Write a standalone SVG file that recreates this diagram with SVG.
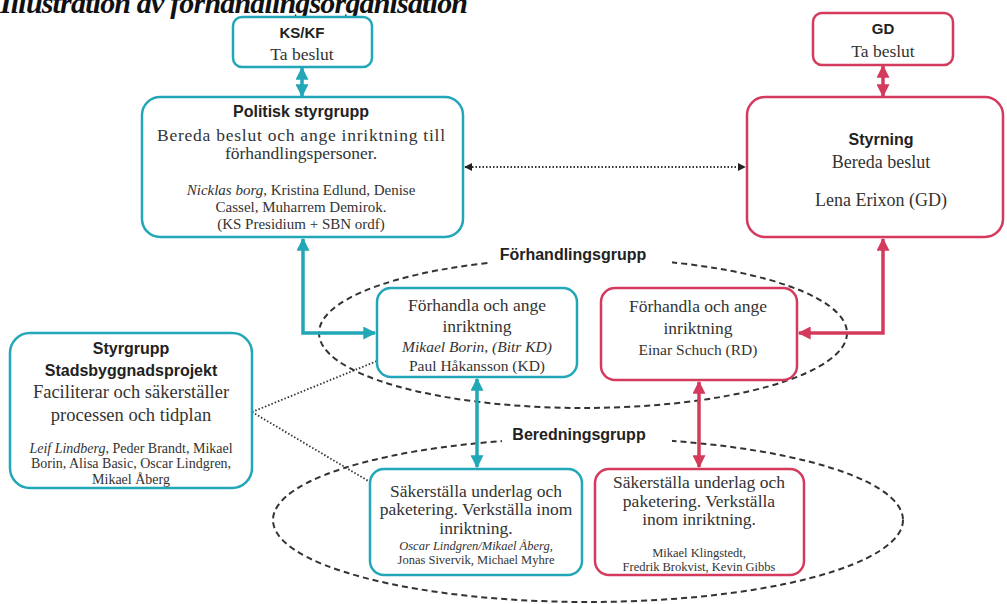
<svg xmlns="http://www.w3.org/2000/svg" width="1007" height="604" viewBox="0 0 1007 604">
<defs>
<style>
.teal{fill:#fff;stroke:#22A7B8;stroke-width:2.5}
.red{fill:#fff;stroke:#D43A5C;stroke-width:2.5}
.h{font-family:"Liberation Sans",Arial,sans-serif;font-weight:bold;fill:#222;text-anchor:middle}
.s{font-family:"Liberation Serif","Times New Roman",serif;fill:#333;text-anchor:middle}
.i{font-style:italic}
.ta{fill:none;stroke:#22A7B8;stroke-width:3.5}
.ra{fill:none;stroke:#D43A5C;stroke-width:3.5}
.dot{fill:none;stroke:#333;stroke-width:1.8;stroke-dasharray:1.5 2}
.dash{fill:none;stroke:#333;stroke-width:2;stroke-dasharray:6 4}
</style>
<marker id="mt" viewBox="0 0 10 10" refX="9" refY="5" markerUnits="userSpaceOnUse" markerWidth="14" markerHeight="13" orient="auto-start-reverse"><path d="M0,0 L10,5 L0,10 z" fill="#22A7B8"/></marker>
<marker id="mr" viewBox="0 0 10 10" refX="9" refY="5" markerUnits="userSpaceOnUse" markerWidth="14" markerHeight="13" orient="auto-start-reverse"><path d="M0,0 L10,5 L0,10 z" fill="#D43A5C"/></marker>
<marker id="mk" viewBox="0 0 10 10" refX="9" refY="5" markerUnits="userSpaceOnUse" markerWidth="8" markerHeight="8" orient="auto-start-reverse"><path d="M0,0 L10,5 L0,10 z" fill="#222"/></marker>
</defs>
<rect width="1007" height="604" fill="#fff"/>
<text x="0" y="13" font-family="Liberation Serif,serif" font-weight="bold" font-style="italic" font-size="30" fill="#111" textLength="468">Illustration av förhandlingsorganisation</text>

<g id="groups">
<ellipse cx="583" cy="333" rx="264" ry="75" class="dash"/>
<rect x="490" y="245" width="182" height="22" fill="#fff"/>
<text x="573" y="260" class="h" font-size="16">Förhandlingsgrupp</text>
<ellipse cx="588" cy="520" rx="315" ry="82" class="dash"/>
<rect x="502" y="425" width="170" height="22" fill="#fff"/>
<text x="579" y="440" class="h" font-size="16">Beredningsgrupp</text>
</g>

<g id="connectors">
<line x1="302" y1="68" x2="302" y2="96" class="ta" marker-start="url(#mt)" marker-end="url(#mt)"/>
<line x1="883" y1="66" x2="883" y2="96" class="ra" marker-start="url(#mr)" marker-end="url(#mr)"/>
<line x1="465" y1="167" x2="745" y2="167" class="dot" marker-start="url(#mk)" marker-end="url(#mk)"/>
<polyline points="303,239 303,333 375,333" class="ta" marker-start="url(#mt)" marker-end="url(#mt)"/>
<polyline points="883,239 883,333 799,333" class="ra" marker-start="url(#mr)" marker-end="url(#mr)"/>
<line x1="477" y1="379" x2="477" y2="467" class="ta" marker-start="url(#mt)" marker-end="url(#mt)"/>
<line x1="699" y1="382" x2="699" y2="467" class="ra" marker-start="url(#mr)" marker-end="url(#mr)"/>
<line x1="252" y1="412" x2="377" y2="361" class="dot"/>
<line x1="252" y1="412" x2="370" y2="482" class="dot"/>
</g>

<g id="ksk">
<rect x="233" y="17" width="139" height="50" rx="9" class="teal"/>
<text x="302" y="38" class="h" font-size="15">KS/KF</text>
<text x="302" y="60" class="s" font-size="17.5">Ta beslut</text>
</g>

<g id="gd">
<rect x="813" y="13" width="140" height="52" rx="9" class="red"/>
<text x="883" y="34" class="h" font-size="15">GD</text>
<text x="883" y="57" class="s" font-size="17.5">Ta beslut</text>
</g>

<g id="politisk">
<rect x="142" y="97" width="321" height="140" rx="18" class="teal"/>
<text x="301" y="117" class="h" font-size="16">Politisk styrgrupp</text>
<text x="301" y="141" class="s" font-size="17.5" textLength="288">Bereda beslut och ange inriktning till</text>
<text x="301" y="159" class="s" font-size="17.5">förhandlingspersoner.</text>
<text x="301" y="195" class="s" font-size="15"><tspan class="i">Nicklas borg,</tspan> Kristina Edlund, Denise</text>
<text x="301" y="212" class="s" font-size="15">Cassel, Muharrem Demirok.</text>
<text x="301" y="229" class="s" font-size="15">(KS Presidium + SBN ordf)</text>
</g>

<g id="styrning">
<rect x="747" y="97" width="256" height="140" rx="18" class="red"/>
<text x="881" y="145" class="h" font-size="16">Styrning</text>
<text x="881" y="168" class="s" font-size="18">Bereda beslut</text>
<text x="881" y="206" class="s" font-size="18">Lena Erixon (GD)</text>
</g>

<g id="forh-teal">
<rect x="377" y="288" width="200" height="89" rx="14" class="teal"/>
<text x="477" y="311" class="s" font-size="17.5">Förhandla  och ange</text>
<text x="477" y="332" class="s" font-size="17.5">inriktning</text>
<text x="477" y="352" class="s i" font-size="15.5">Mikael Borin, (Bitr KD)</text>
<text x="477" y="371" class="s" font-size="15.5">Paul Håkansson (KD)</text>
</g>

<g id="forh-red">
<rect x="601" y="288" width="196" height="92" rx="14" class="red"/>
<text x="698" y="312" class="s" font-size="17.5">Förhandla  och ange</text>
<text x="698" y="334" class="s" font-size="17.5">inriktning</text>
<text x="698" y="355" class="s" font-size="15.5">Einar Schuch (RD)</text>
</g>

<g id="sak-teal">
<rect x="370" y="469" width="212" height="106" rx="14" class="teal"/>
<text x="476" y="497" class="s" font-size="17.5">Säkerställa underlag och</text>
<text x="476" y="515" class="s" font-size="17.5">paketering. Verkställa inom</text>
<text x="476" y="534" class="s" font-size="17.5">inriktning.</text>
<text x="476" y="550" class="s i" font-size="12.5">Oscar Lindgren/Mikael Åberg,</text>
<text x="476" y="564" class="s" font-size="12.5">Jonas Sivervik,  Michael  Myhre</text>
</g>

<g id="sak-red">
<rect x="595" y="469" width="209" height="106" rx="14" class="red"/>
<text x="699" y="488" class="s" font-size="17.5">Säkerställa underlag och</text>
<text x="699" y="507" class="s" font-size="17.5">paketering. Verkställa</text>
<text x="699" y="525" class="s" font-size="17.5">inom inriktning.</text>
<text x="699" y="557" class="s" font-size="12.5">Mikael  Klingstedt,</text>
<text x="699" y="571" class="s" font-size="12.5">Fredrik Brokvist, Kevin Gibbs</text>
</g>

<g id="styrgrupp-sbp">
<rect x="10" y="333" width="242" height="155" rx="20" class="teal"/>
<text x="131" y="354" class="h" font-size="16">Styrgrupp</text>
<text x="131" y="376" class="h" font-size="16">Stadsbyggnadsprojekt</text>
<text x="131" y="398" class="s" font-size="18.5">Faciliterar  och  säkerställer</text>
<text x="131" y="421" class="s" font-size="18.5">processen  och  tidplan</text>
<text x="131" y="453" class="s" font-size="14"><tspan class="i">Leif Lindberg</tspan>, Peder Brandt, Mikael</text>
<text x="131" y="468" class="s" font-size="14">Borin, Alisa Basic, Oscar Lindgren,</text>
<text x="131" y="484" class="s" font-size="14">Mikael Åberg</text>
</g>
</svg>
